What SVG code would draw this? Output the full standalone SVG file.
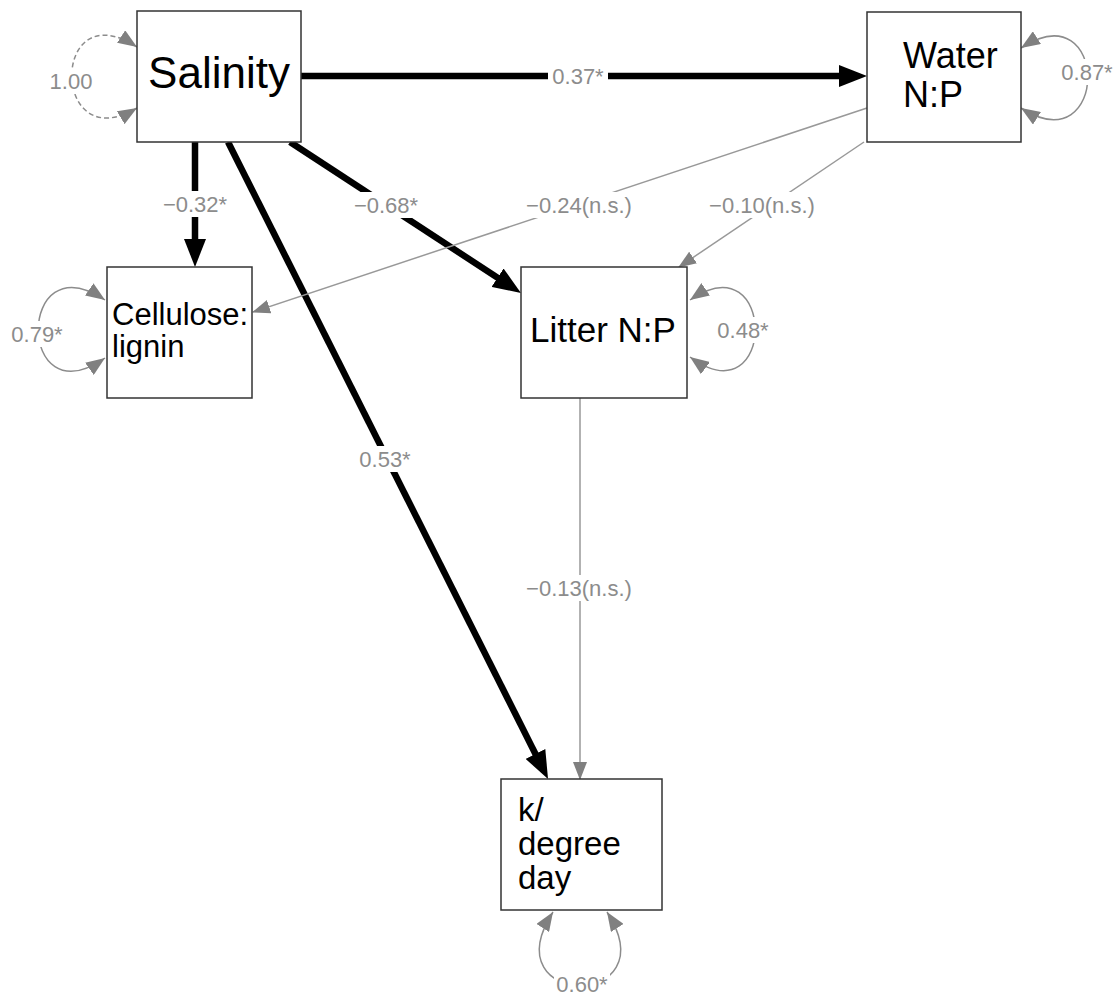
<svg xmlns="http://www.w3.org/2000/svg" width="1118" height="998" viewBox="0 0 1118 998">
<style>
.node rect{fill:#fff;stroke:#333;stroke-width:1.5}
.node text{font-family:"Liberation Sans",Arial,sans-serif;fill:#000}
.thick{stroke:#000;stroke-width:6.5;fill:none;marker-end:url(#ab)}
.thin{stroke:#999;stroke-width:1.5;fill:none;marker-end:url(#ag)}
.loop{stroke:#8c8c8c;stroke-width:1.5;fill:none;marker-start:url(#al);marker-end:url(#al)}
.lbg{fill:#fff}
.lbl{font-family:"Liberation Sans",Arial,sans-serif;font-size:22px;fill:#8c8c8c;text-anchor:middle}
</style>
<defs>
<marker id="ab" markerUnits="userSpaceOnUse" markerWidth="28" markerHeight="22" refX="13" refY="11" orient="auto"><path d="M0,0 L28,11 L0,22 z" fill="#000"/></marker>
<marker id="ag" markerUnits="userSpaceOnUse" markerWidth="18" markerHeight="14" refX="17" refY="7" orient="auto"><path d="M0,0 L18,7 L0,14 z" fill="#808080"/></marker>
<marker id="al" markerUnits="userSpaceOnUse" markerWidth="19" markerHeight="15" refX="19" refY="7.5" orient="auto-start-reverse"><path d="M0,0 L19,7.5 L0,15 z" fill="#808080"/></marker>
</defs>
<g id="connectors">
<line class="thick" x1="301" y1="76" x2="852" y2="76"/>
<line class="thick" x1="195" y1="142" x2="195" y2="252"/>
<line class="thick" x1="290" y1="142" x2="508.4" y2="284.8"/>
<line class="thick" x1="228" y1="142" x2="541.3" y2="765.6"/>
<line class="thin" x1="867" y1="108" x2="253" y2="312"/>
<line class="thin" x1="864" y1="142" x2="679" y2="267"/>
<line class="thin" x1="580" y1="398" x2="580" y2="779"/>
<path class="loop" stroke-dasharray="5,3" d="M137,47 C50,-10 50,160 137,108"/>
<path class="loop" d="M1021,48 C1110,-10 1110,165 1021,108"/>
<path class="loop" d="M105,300 C16,240 16,420 105,358"/>
<path class="loop" d="M690,300 C777,240 777,420 690,357"/>
<path class="loop" d="M553,912 C490,1010 670,1010 607,912"/>
<rect class="lbg" x="548" y="63" width="60" height="26"/>
<text class="lbl" x="578" y="84">0.37*</text>
<rect class="lbg" x="48" y="68" width="46" height="26"/>
<text class="lbl" x="71" y="89">1.00</text>
<rect class="lbg" x="1059" y="59" width="56" height="26"/>
<text class="lbl" x="1087" y="80">0.87*</text>
<rect class="lbg" x="161" y="191" width="68" height="26"/>
<text class="lbl" x="195" y="212">−0.32*</text>
<rect class="lbg" x="352" y="192" width="68" height="26"/>
<text class="lbl" x="386" y="213">−0.68*</text>
<rect class="lbg" x="523" y="192" width="112" height="26"/>
<text class="lbl" x="579" y="213">−0.24(n.s.)</text>
<rect class="lbg" x="706" y="192" width="112" height="26"/>
<text class="lbl" x="762" y="213">−0.10(n.s.)</text>
<rect class="lbg" x="9" y="321" width="56" height="26"/>
<text class="lbl" x="37" y="342">0.79*</text>
<rect class="lbg" x="715" y="317" width="56" height="26"/>
<text class="lbl" x="743" y="338">0.48*</text>
<rect class="lbg" x="357" y="446" width="56" height="26"/>
<text class="lbl" x="385" y="467">0.53*</text>
<rect class="lbg" x="523" y="575" width="112" height="26"/>
<text class="lbl" x="579" y="596">−0.13(n.s.)</text>
<rect class="lbg" x="554" y="972" width="56" height="26"/>
<text class="lbl" x="582" y="992">0.60*</text>
</g>
<g id="salinity" class="node">
<rect x="137" y="11" width="164" height="131"/>
<text x="219" y="88" font-size="44" text-anchor="middle">Salinity</text>
</g>
<g id="water_np" class="node">
<rect x="867" y="12" width="154" height="130"/>
<text x="903" y="68" font-size="36">Water</text>
<text x="903" y="107" font-size="36">N:P</text>
</g>
<g id="cellulose_lignin" class="node">
<rect x="107" y="267" width="145" height="131"/>
<text x="112" y="325" font-size="31">Cellulose:</text>
<text x="112" y="357" font-size="31">lignin</text>
</g>
<g id="litter_np" class="node">
<rect x="521" y="267" width="166" height="131"/>
<text x="530" y="342" font-size="35">Litter N:P</text>
</g>
<g id="k_degree_day" class="node">
<rect x="501" y="779" width="161" height="131"/>
<text x="518" y="821" font-size="33">k/</text>
<text x="518" y="855" font-size="33">degree</text>
<text x="518" y="889" font-size="33">day</text>
</g>
</svg>
